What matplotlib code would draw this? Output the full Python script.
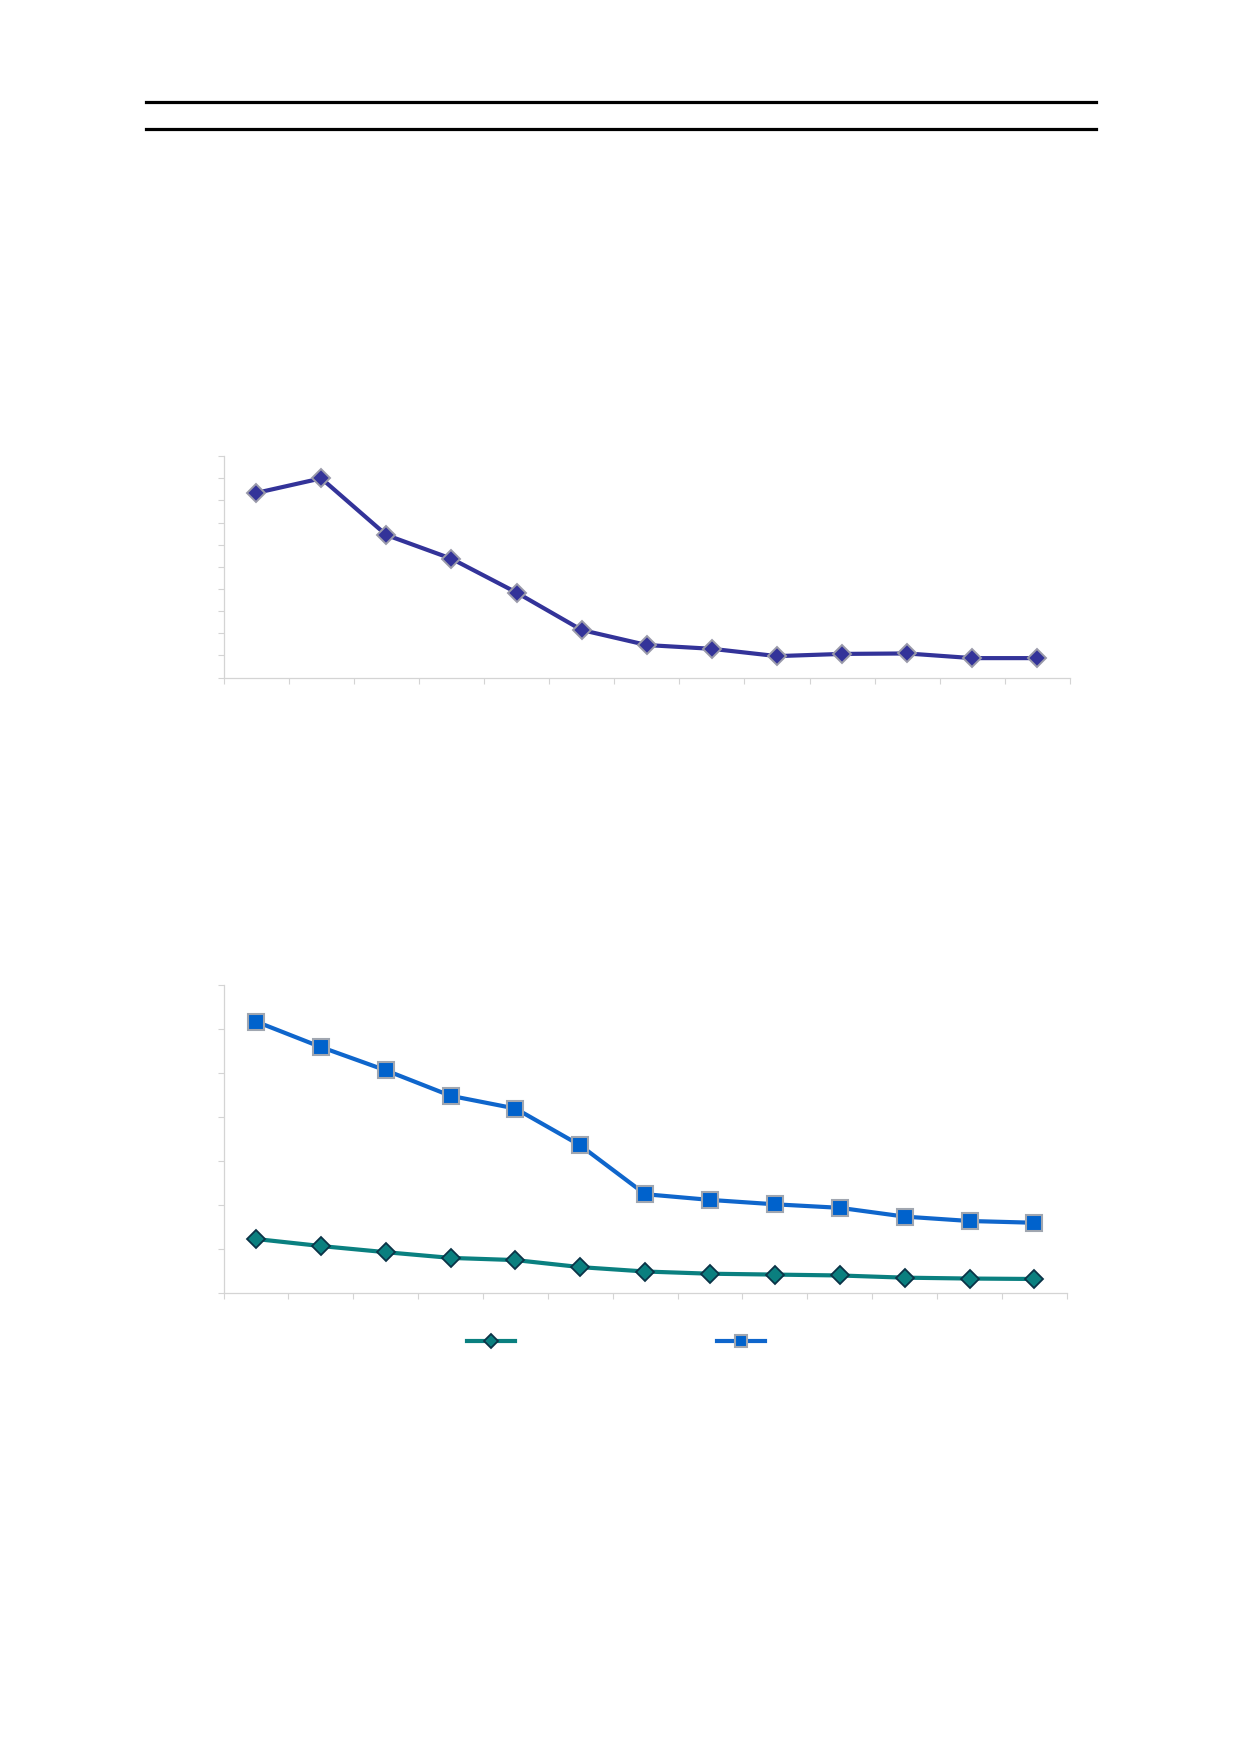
import matplotlib
matplotlib.use("Agg")
import matplotlib.pyplot as plt
from matplotlib.lines import Line2D
import numpy as np

# ---- data (the original has no visible text) ----
categories = list(range(13))
series_top = [8.34, 9.0, 6.44, 5.37, 3.84, 2.15, 1.47, 1.30, 0.97, 1.07, 1.09, 0.88, 0.88]
series_low = [1.22, 1.06, 0.92, 0.79, 0.74, 0.58, 0.48, 0.43, 0.41, 0.39, 0.34, 0.32, 0.31]
series_high = [6.17, 5.59, 5.06, 4.48, 4.19, 3.35, 2.24, 2.11, 2.01, 1.93, 1.73, 1.63, 1.59]
top_ymax = 10
top_ystep = 1
bot_ymax = 7
bot_ystep = 1

W, H = 1239, 1754
fig = plt.figure(figsize=(W / 100, H / 100), dpi=100)
fig.patch.set_facecolor("white")

# header rules
for yy in (101.7, 129.3):
    fig.add_artist(Line2D([145.5 / W, 1096 / W], [1 - yy / H, 1 - yy / H],
                          color="black", lw=2.3, transform=fig.transFigure))

axis_col = "#D4D4D4"


def style(ax, ymax, ystep):
    n = len(categories)
    ax.set_xlim(-0.5, n - 0.5)
    ax.set_ylim(0, ymax)
    ax.set_xticks(np.arange(-0.5, n, 1.0))
    ax.set_yticks(np.arange(0, ymax + 0.001, ystep))
    ax.set_xticklabels([])
    ax.set_yticklabels([])
    for s in ("top", "right"):
        ax.spines[s].set_visible(False)
    for s in ("left", "bottom"):
        ax.spines[s].set_color(axis_col)
        ax.spines[s].set_linewidth(0.9)
    ax.tick_params(axis="both", direction="out", length=4, width=0.8, color=axis_col)
    ax.set_facecolor("white")


# chart 1
ax1 = fig.add_axes([223.6 / W, 1 - 677.6 / H, (1070 - 223.6) / W, (677.6 - 456.2) / H])
style(ax1, top_ymax, top_ystep)
ax1.plot(categories, series_top, color="#333399", lw=3.0, marker="D", markersize=9.5,
         markerfacecolor="#333399", markeredgecolor="#9A9AAA", markeredgewidth=1.4,
         clip_on=False, zorder=3)

# chart 2
ax2 = fig.add_axes([223.6 / W, 1 - 1292.6 / H, (1066.8 - 223.6) / W, (1292.6 - 985.1) / H])
style(ax2, bot_ymax, bot_ystep)
l1, = ax2.plot(categories, series_low, color="#0A8080", lw=3.0, marker="D", markersize=9.5,
               markerfacecolor="#0A7F7F", markeredgecolor="#0B3347", markeredgewidth=1.3,
               clip_on=False, zorder=3)
l2, = ax2.plot(categories, series_high, color="#0F66CC", lw=3.0, marker="s", markersize=11,
               markerfacecolor="#0062CC", markeredgecolor="#A0A6B0", markeredgewidth=1.5,
               clip_on=False, zorder=3)

fig.legend([l1, l2], ["", ""], loc="center", ncol=2,
           bbox_to_anchor=(616 / W, 1 - 1342 / H), frameon=False,
           fontsize=10, handlelength=3.4, handletextpad=0.0, columnspacing=14.6,
           markerscale=0.8)

fig.savefig("out.png", dpi=100, facecolor="white")
